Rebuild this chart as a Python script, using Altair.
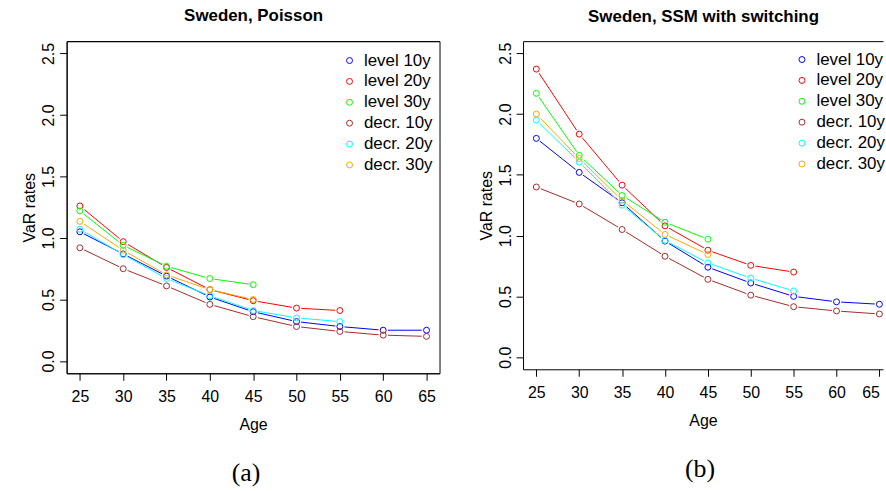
import altair as alt
import pandas as pd

ages = [25, 30, 35, 40, 45, 50, 55, 60, 65]
series_names = ["level 10y", "level 20y", "level 30y", "decr. 10y", "decr. 20y", "decr. 30y"]
series_colors = ["#0000FF", "#FF0000", "#00FF00", "#A52A2A", "#00FFFF", "#FFA500"]
y_ticks = [0.0, 0.5, 1.0, 1.5, 2.0, 2.5]

# (a) Sweden, Poisson
poisson_level10 = [1.05, 0.87, 0.69, 0.52, 0.40, 0.32, 0.28, 0.25, 0.25]
poisson_level20 = [1.26, 0.97, 0.76, 0.58, 0.49, 0.43, 0.41]
poisson_level30 = [1.22, 0.94, 0.77, 0.67, 0.62]
poisson_decr10 = [0.92, 0.75, 0.61, 0.46, 0.36, 0.28, 0.24, 0.21, 0.20]
poisson_decr20 = [1.07, 0.865, 0.67, 0.53, 0.41, 0.35, 0.32]
poisson_decr30 = [1.135, 0.90, 0.70, 0.58, 0.50]

# (b) Sweden, SSM with switching
ssm_level10 = [1.80, 1.52, 1.27, 0.955, 0.74, 0.61, 0.50, 0.455, 0.435]
ssm_level20 = [2.37, 1.835, 1.415, 1.08, 0.88, 0.755, 0.70]
ssm_level30 = [2.17, 1.66, 1.33, 1.11, 0.97]
ssm_decr10 = [1.40, 1.26, 1.05, 0.83, 0.64, 0.51, 0.415, 0.38, 0.355]
ssm_decr20 = [1.95, 1.605, 1.25, 0.96, 0.775, 0.65, 0.545]
ssm_decr30 = [2.00, 1.635, 1.29, 1.01, 0.845]


def build_df(lists):
    rows = []
    for name, vals in zip(series_names, lists):
        for a, v in zip(ages, vals):
            rows.append({"series": name, "age": a, "value": v})
    return pd.DataFrame(rows)


def panel(df, title, caption, xdom, w, h, legx, legy, lab_off, cap_dx, stroke, flush,
          top_pad):
    xscale = alt.Scale(domain=xdom, nice=False, zero=False)
    yscale = alt.Scale(domain=[-0.1, 2.6], nice=False, zero=False)
    x_bottom = alt.X("age:Q", scale=xscale,
                     axis=alt.Axis(values=ages, format="d", title="Age", orient="bottom",
                                   tickSize=7, labelPadding=8, titlePadding=13,
                                   labelFlush=flush, labelOverlap=False))
    x_top = alt.X("age:Q", scale=xscale,
                  axis=alt.Axis(orient="top", title=title, labels=False, ticks=False,
                                domain=True, titleFontWeight="bold", titleFontSize=17,
                                titlePadding=top_pad))
    y = alt.Y("value:Q", scale=yscale,
              axis=alt.Axis(values=y_ticks, format=".1f", title="VaR rates",
                            labelAngle=270, labelAlign="center", labelBaseline="bottom",
                            tickSize=7, labelPadding=3, titlePadding=3))
    cscale = alt.Scale(domain=series_names, range=series_colors)
    leg = alt.Legend(orient="none", legendX=legx, legendY=legy,
                     title=None, labelFontSize=17,
                     labelFont="Liberation Sans", labelColor="black",
                     symbolType="circle", symbolSize=36, symbolFillColor="transparent",
                     symbolStrokeWidth=1, labelOffset=lab_off,
                     rowPadding=3, padding=0)
    color = alt.Color("series:N", scale=cscale, legend=leg)
    lines = alt.Chart(df).mark_line(strokeWidth=1).encode(
        x=x_top, y=y, color=color,
    )
    halo = alt.Chart(df).mark_point(filled=True, size=90, shape="circle", color="white",
                                    opacity=1, strokeWidth=0).encode(
        x=alt.X("age:Q", scale=xscale, axis=None), y=y,
    )
    pts = alt.Chart(df).mark_point(filled=False, size=36, strokeWidth=1, shape="circle",
                                   opacity=1).encode(
        x=x_bottom, y=y, color=color,
    )
    return alt.layer(lines, halo, pts).resolve_axis(x="independent").properties(
        width=w, height=h,
        title=alt.TitleParams(caption, orient="bottom", anchor="middle", dx=cap_dx,
                              offset=27),
        view=alt.ViewConfig(stroke=stroke, strokeWidth=1),
    )


left = panel(build_df([poisson_level10, poisson_level20, poisson_level30,
                       poisson_decr10, poisson_decr20, poisson_decr30]),
             "Sweden, Poisson", "(a)", [23.47, 66.5], 375, 334, 276, 11, 6, -7,
             "black", False, 17)
right = panel(build_df([ssm_level10, ssm_level20, ssm_level30,
                        ssm_decr10, ssm_decr20, ssm_decr30]),
              "Sweden, SSM with switching", "(b)", [23.45, 65.42], 362, 330, 272, 10, 6, -3,
              "transparent", 6, 16)

chart = alt.hconcat(left, right, spacing=37).resolve_scale(
    color="independent"
).resolve_legend(color="independent").properties(
    padding={"left": 21, "top": 4, "right": 0, "bottom": 0},
    background="white",
).configure_axis(
    labelFont="Liberation Sans", titleFont="Liberation Sans",
    labelFontSize=16, titleFontSize=16, titleFontWeight="normal",
    labelColor="black", titleColor="black", tickColor="black", domainColor="black",
    grid=False,
).configure_title(
    font="Liberation Serif", fontSize=26, fontWeight="normal", color="black",
)

chart.save("out.html", embed_options={"renderer": "svg", "actions": False})
